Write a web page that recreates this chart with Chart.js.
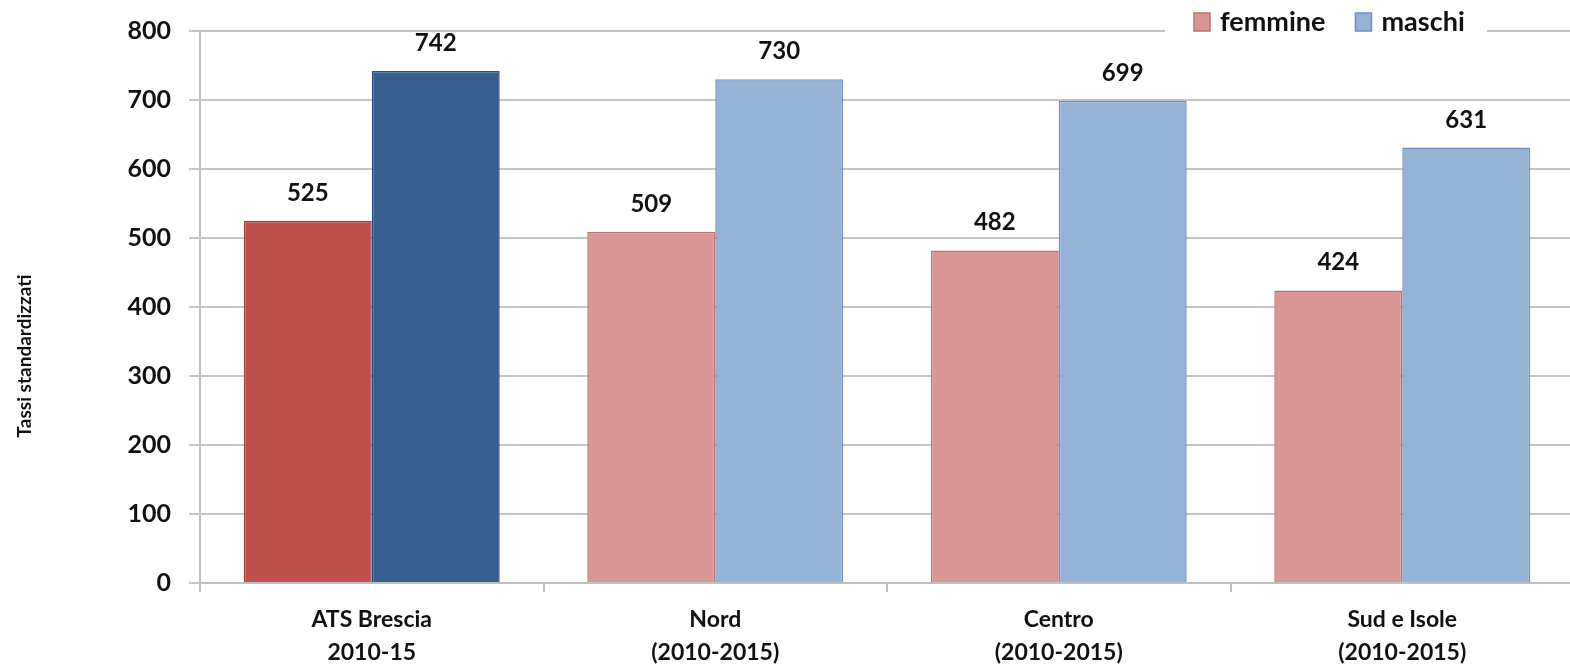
<!DOCTYPE html>
<html>
<head>
<meta charset="utf-8">
<script src="https://cdn.jsdelivr.net/npm/chart.js@4.4.1/dist/chart.umd.min.js"></script>
<style>
  html, body { margin: 0; padding: 0; background: #fff; overflow: hidden; }
  #wrap { width: 1574px; height: 664px; }
</style>
</head>
<body>
<div id="wrap"><canvas id="grafico" width="1574" height="664"></canvas></div>
<script>
// Dati
const categorie = [
    ["ATS Brescia", "2010-15"],
    ["Nord", "(2010-2015)"],
    ["Centro", "(2010-2015)"],
    ["Sud e Isole", "(2010-2015)"]
];
const femmine = [525, 509, 482, 424];
const maschi = [742, 730, 699, 631];
const yTicks = [0, 100, 200, 300, 400, 500, 600, 700, 800];

// Colori (la prima barra, ATS Brescia, è evidenziata)
const coloreFemmine = "#D99694";
const bordoFemmine = "#B97371";
const coloreMaschi = "#95B3D7";
const bordoMaschi = "#6F90BB";
const evidFemmine = "#C0504D";
const evidFemmineBordo = "#A5403D";
const evidMaschi = "#365F91";
const evidMaschiBordo = "#2B4D78";

const FONT = "Lato";

function coloriSerie(evid, base) {
    return categorie.map((c, i) => (i === 0 ? evid : base));
}

// Etichette sopra le barre
const etichettePlugin = {
    id: "etichette",
    afterDatasetsDraw(chart) {
        const ctx = chart.ctx;
        ctx.save();
        ctx.font = `bold 24px ${FONT}`;
        ctx.fillStyle = "#111";
        ctx.textAlign = "center";
        ctx.textBaseline = "alphabetic";
        chart.data.datasets.forEach((ds, i) => {
            chart.getDatasetMeta(i).data.forEach((bar, j) => {
                ctx.fillText(ds.data[j], bar.x, bar.y - 20);
            });
        });
        ctx.restore();
    }
};

// Legenda in alto a destra, sopra la griglia
const legendaPlugin = {
    id: "legenda",
    afterDraw(chart) {
        const ctx = chart.ctx;
        ctx.save();
        ctx.fillStyle = "#fff";
        ctx.fillRect(1165, 20, 322, 22);
        ctx.font = `bold 27px ${FONT}`;
        ctx.textBaseline = "middle";
        ctx.textAlign = "left";
        let x = 1194;
        const legenda = [
            { testo: chart.data.datasets[0].label, fill: coloreFemmine, bordo: bordoFemmine },
            { testo: chart.data.datasets[1].label, fill: coloreMaschi, bordo: bordoMaschi }
        ];
        legenda.forEach((voce) => {
            ctx.fillStyle = voce.fill;
            ctx.strokeStyle = voce.bordo;
            ctx.lineWidth = 1.5;
            ctx.fillRect(x, 13, 16, 18);
            ctx.strokeRect(x, 13, 16, 18);
            ctx.fillStyle = "#111";
            ctx.fillText(voce.testo, x + 26, 22);
            x += 26 + ctx.measureText(voce.testo).width + 30;
        });
        ctx.restore();
    }
};

// Titolo asse Y
const titoloYPlugin = {
    id: "titoloY",
    afterDraw(chart) {
        const ctx = chart.ctx;
        ctx.save();
        ctx.translate(25, 356);
        ctx.rotate(-Math.PI / 2);
        ctx.font = `bold 19px ${FONT}`;
        ctx.fillStyle = "#111";
        ctx.textAlign = "center";
        ctx.textBaseline = "middle";
        ctx.fillText("Tassi standardizzati", 0, 0);
        ctx.restore();
    }
};

const ctx = document.getElementById("grafico").getContext("2d");
new Chart(ctx, {
    type: "bar",
    data: {
        labels: categorie,
        datasets: [
            {
                label: "femmine",
                data: femmine,
                backgroundColor: coloriSerie(evidFemmine, coloreFemmine),
                borderColor: coloriSerie(evidFemmineBordo, bordoFemmine),
                borderWidth: 1.5,
                categoryPercentage: 0.745,
                barPercentage: 1.0
            },
            {
                label: "maschi",
                data: maschi,
                backgroundColor: coloriSerie(evidMaschi, coloreMaschi),
                borderColor: coloriSerie(evidMaschiBordo, bordoMaschi),
                borderWidth: 1.5,
                categoryPercentage: 0.745,
                barPercentage: 1.0
            }
        ]
    },
    options: {
        responsive: false,
        animation: false,
        devicePixelRatio: 1,
        layout: { padding: { top: 31, left: 0, right: 0, bottom: 0 } },
        plugins: {
            legend: { display: false },
            tooltip: { enabled: false }
        },
        scales: {
            x: {
                grid: {
                    offset: true,
                    drawOnChartArea: false,
                    drawTicks: true,
                    tickLength: 9,
                    color: "#BFBFBF",
                    lineWidth: 2
                },
                border: { display: true, color: "#BFBFBF", width: 2 },
                ticks: {
                    color: "#111",
                    font: { family: FONT, size: 23, weight: "bold", lineHeight: 1.43 },
                    padding: 11,
                    maxRotation: 0,
                    autoSkip: false
                },
                afterFit(scale) { scale.height = 81; }
            },
            y: {
                min: 0,
                max: 800,
                afterBuildTicks(scale) {
                    scale.ticks = yTicks.map(v => ({ value: v }));
                },
                grid: {
                    color: "#C4C4C4",
                    lineWidth: 2,
                    tickLength: 11
                },
                border: { display: true, color: "#BFBFBF", width: 2 },
                ticks: {
                    color: "#111",
                    font: { family: FONT, size: 25, weight: "bold" },
                    padding: 18
                },
                afterFit(scale) {
                    scale.width = 200;
                    scale.paddingTop = 0;
                    scale.paddingBottom = 0;
                }
            }
        }
    },
    plugins: [etichettePlugin, legendaPlugin, titoloYPlugin]
});
</script>
</body>
</html>
